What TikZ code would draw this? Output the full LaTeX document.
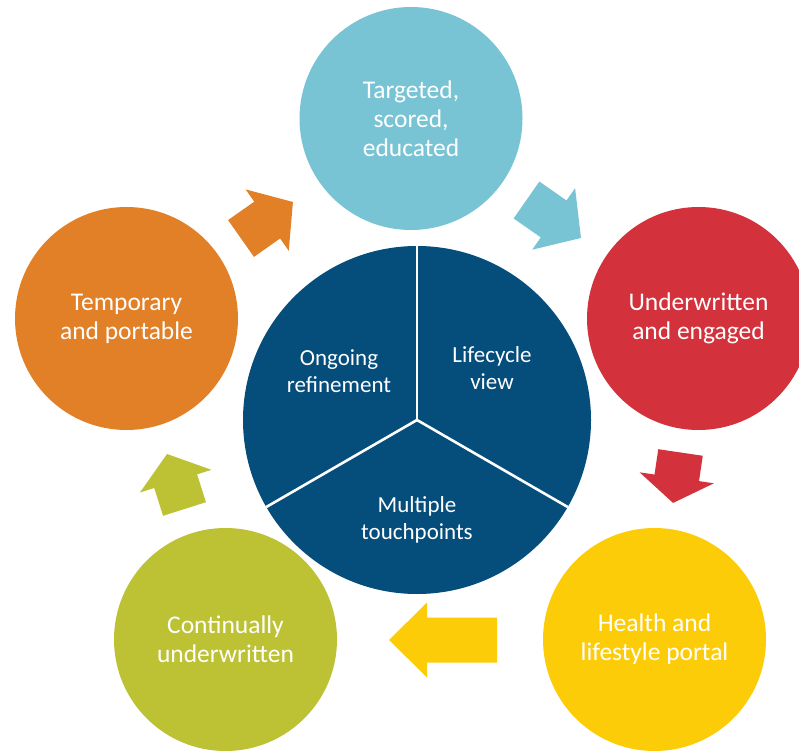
\documentclass[tikz,border=0pt]{standalone}
\usepackage{fontspec}
\setmainfont{Carlito}
\definecolor{cteal}{RGB}{120,196,212}
\definecolor{cred}{RGB}{211,49,59}
\definecolor{corange}{RGB}{226,128,40}
\definecolor{cgreen}{RGB}{189,193,52}
\definecolor{cyellow}{RGB}{253,204,9}
\definecolor{cnavy}{RGB}{5,77,123}
\tikzset{
  stage/.style={circle, minimum size=223pt, inner sep=0pt, text=white, align=center,
    font=\fontsize{25.5}{29}\selectfont},
  hubtext/.style={text=white, align=center, font=\fontsize{23}{27}\selectfont},
  divider/.style={white, line width=2.6pt},
}
% x, y (tail middle), angle, length, head length, colour
\newcommand{\blockarr}[6]{%
  \begin{scope}[shift={(#1,#2)},rotate=#3]
    \fill[#6] (0,-22.5) -- ({#4-#5},-22.5) -- ({#4-#5},-37.5) -- (#4,0)
      -- ({#4-#5},37.5) -- ({#4-#5},22.5) -- (0,22.5) -- cycle;
  \end{scope}}
\begin{document}
\begin{tikzpicture}[x=1pt,y=1pt]
\useasboundingbox (0,0) rectangle (799,750);
\clip (0,0) rectangle (799,750);
\fill[white] (0,0) rectangle (799,750);
% outer stages
\node[stage, fill=cteal]   (targeted)  at (411,631.5) {Targeted,\\scored,\\educated};
\node[stage, fill=cred]    (underw)    at (698.5,431.5) {Underwritten\\and engaged};
\node[stage, fill=cyellow] (health)    at (654.5,110.5) {Health and\\lifestyle portal};
\node[stage, fill=cgreen]  (continual) at (225.5,110.5) {Continually\\underwritten};
\node[stage, fill=corange] (temporary) at (126.5,431.5) {Temporary\\and portable};
% hub
\node[circle, fill=cnavy, minimum size=348pt, inner sep=0pt] (hub) at (417,330) {};
\draw[divider] (hub.center) -- (hub.90);
\draw[divider] (hub.center) -- (hub.210);
\draw[divider] (hub.center) -- (hub.330);
\node[hubtext] (ongoing) at (339,379) {Ongoing\\refinement};
\node[hubtext] (lifecycle) at (492,382) {Lifecycle\\view};
\node[hubtext] (multiple) at (417,230) {Multiple\\touchpoints};
% block arrows
\blockarr{241}{511.5}{35.1}{63.5}{31.5}{corange}
\blockarr{526.5}{550}{-34.9}{66.4}{33.3}{cteal}
\blockarr{680.5}{297.5}{-98.4}{51}{25.4}{cred}
\blockarr{497}{110}{180}{108}{38}{cyellow}
\blockarr{184.5}{241}{107.6}{57.7}{28.5}{cgreen}
\end{tikzpicture}
\end{document}
